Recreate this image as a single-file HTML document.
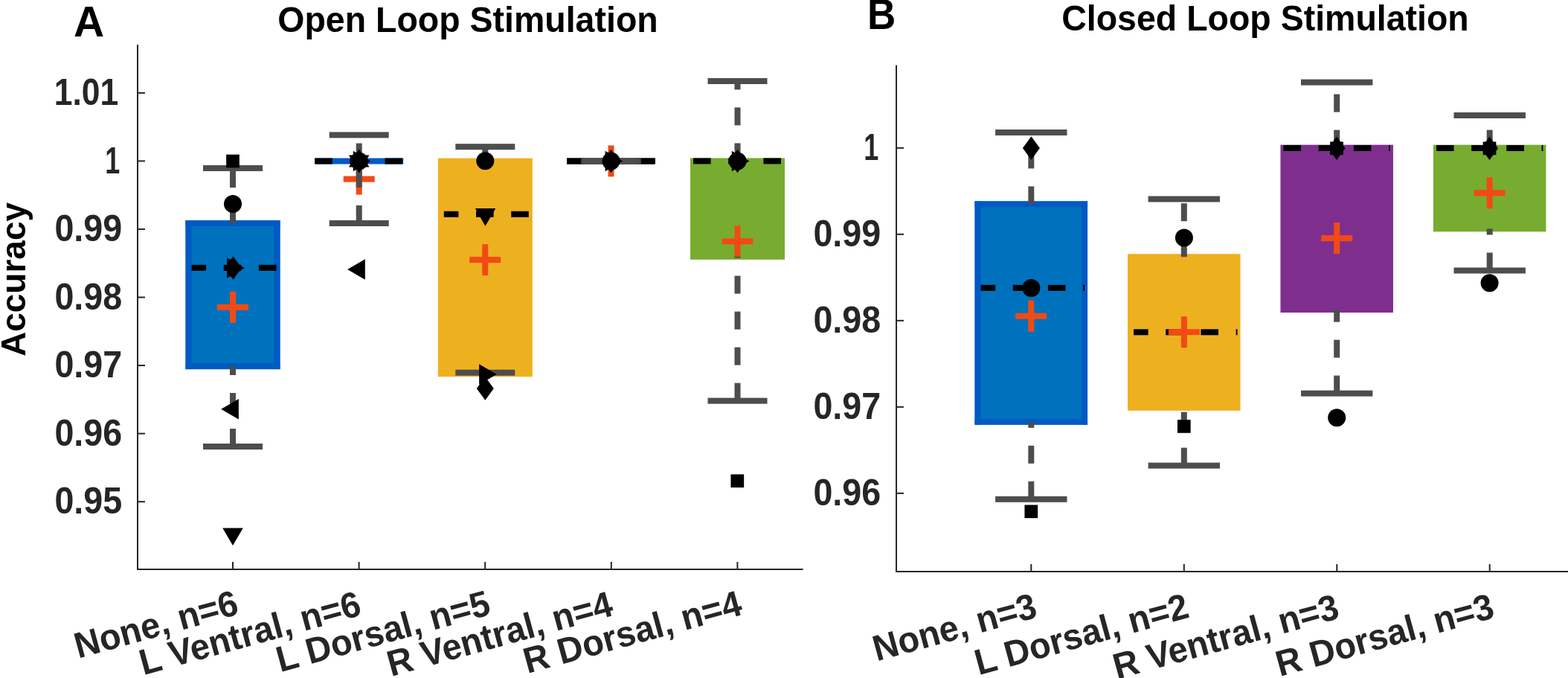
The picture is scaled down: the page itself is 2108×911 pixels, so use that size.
<!DOCTYPE html>
<html><head><meta charset="utf-8"><title>Open Loop vs Closed Loop Stimulation</title>
<style>html,body{margin:0;padding:0;background:#fff;overflow:hidden}svg{display:block}</style>
</head><body>
<svg width="2108" height="911" viewBox="0 0 2108 911" font-family="'Liberation Sans', sans-serif" font-weight="bold"><rect x="0" y="0" width="2108" height="911" fill="#fff"/><rect x="249.5" y="296.1" width="127" height="200" fill="#0072bd"/><rect x="249.5" y="296.1" width="127" height="8" fill="#005ac3"/><rect x="249.5" y="488.1" width="127" height="8" fill="#005ac3"/><rect x="249.5" y="296.1" width="8" height="200" fill="#005ac3"/><rect x="368.5" y="296.1" width="8" height="200" fill="#005ac3"/><rect x="257.5" y="355.8" width="19.6" height="8" fill="#000"/><rect x="300.7" y="355.8" width="23.6" height="8" fill="#000"/><rect x="347.9" y="355.8" width="23.6" height="8" fill="#000"/><rect x="292" y="408.8" width="42" height="8" fill="#f24a14"/><rect x="309" y="391.8" width="8" height="42" fill="#f24a14"/><rect x="309" y="276.1" width="8" height="24" fill="#4d4d4d"/><rect x="309" y="228.1" width="8" height="24" fill="#4d4d4d"/><rect x="309" y="576" width="8" height="24" fill="#4d4d4d"/><rect x="309" y="528" width="8" height="24" fill="#4d4d4d"/><rect x="309" y="492.1" width="8" height="11.9" fill="#4d4d4d"/><rect x="273" y="222" width="80" height="8" fill="#4d4d4d"/><rect x="273" y="596" width="80" height="8" fill="#4d4d4d"/><rect x="304.15" y="207.65" width="17.7" height="17.7" fill="#000"/><circle cx="313" cy="274" r="12" fill="#000"/><polygon points="313.5,344.25 325,360 313.5,375.75 302,360" fill="#000"/><polygon points="305.1,346.25 305.1,373.75 328.8,360" fill="#000"/><polygon points="320.9,535.95 320.9,563.45 297.2,549.7" fill="#000"/><polygon points="299.25,709.4 326.75,709.4 313,733.1" fill="#000"/><rect x="423.2" y="212.5" width="119" height="8" fill="#005ac3"/><rect x="423.2" y="212.5" width="23.6" height="8" fill="#000"/><rect x="470.4" y="212.5" width="23.6" height="8" fill="#000"/><rect x="517.6" y="212.5" width="23.6" height="8" fill="#000"/><rect x="461.7" y="236.6" width="42" height="8" fill="#f24a14"/><rect x="478.7" y="219.6" width="8" height="42" fill="#f24a14"/><rect x="478.7" y="192.5" width="8" height="24" fill="#4d4d4d"/><rect x="478.7" y="276" width="8" height="24" fill="#4d4d4d"/><rect x="478.7" y="228" width="8" height="24" fill="#4d4d4d"/><rect x="442.7" y="177.4" width="80" height="8" fill="#4d4d4d"/><rect x="442.7" y="296" width="80" height="8" fill="#4d4d4d"/><circle cx="482.7" cy="216.5" r="12" fill="#000"/><polygon points="482.7,200.75 494.2,216.5 482.7,232.25 471.2,216.5" fill="#000"/><polygon points="474.8,202.75 474.8,230.25 498.5,216.5" fill="#000"/><polygon points="468.95,224.4 496.45,224.4 482.7,200.7" fill="#000"/><polygon points="468.95,208.6 496.45,208.6 482.7,232.3" fill="#000"/><polygon points="490.8,348.15 490.8,375.65 467.1,361.9" fill="#000"/><rect x="588.8" y="212.6" width="127" height="293.6" fill="#edb120"/><rect x="596.8" y="283.8" width="19.6" height="8" fill="#000"/><rect x="640" y="283.8" width="23.6" height="8" fill="#000"/><rect x="687.2" y="283.8" width="23.6" height="8" fill="#000"/><rect x="631.2" y="345.1" width="42" height="8" fill="#f24a14"/><rect x="648.2" y="328.1" width="8" height="42" fill="#f24a14"/><rect x="648.3" y="197.2" width="8" height="19.4" fill="#4d4d4d"/><rect x="612.3" y="193.2" width="80" height="8" fill="#4d4d4d"/><rect x="612.3" y="496.7" width="80" height="8" fill="#4d4d4d"/><circle cx="652.3" cy="216.2" r="12" fill="#000"/><polygon points="638.75,280.1 666.25,280.1 652.5,303.8" fill="#000"/><polygon points="644.1,489.25 644.1,516.75 667.8,503" fill="#000"/><polygon points="652.3,506.25 663.8,522 652.3,537.75 640.8,522" fill="#000"/><rect x="762" y="212.5" width="119" height="8" fill="#000"/><rect x="762" y="212.5" width="23.6" height="8" fill="#000"/><rect x="809.2" y="212.5" width="23.6" height="8" fill="#000"/><rect x="856.4" y="212.5" width="23.6" height="8" fill="#000"/><rect x="800.5" y="212.4" width="42" height="8" fill="#f24a14"/><rect x="817.5" y="195.4" width="8" height="42" fill="#f24a14"/><rect x="781.5" y="212.5" width="80" height="8" fill="#4d4d4d"/><rect x="781.5" y="212.5" width="80" height="8" fill="#4d4d4d"/><circle cx="821.5" cy="216.5" r="12" fill="#000"/><polygon points="821.5,200.75 833,216.5 821.5,232.25 810,216.5" fill="#000"/><polygon points="813.6,202.75 813.6,230.25 837.3,216.5" fill="#000"/><rect x="928" y="212.4" width="127" height="136.4" fill="#77ac30"/><rect x="932" y="212.4" width="23.6" height="8" fill="#000"/><rect x="979.2" y="212.4" width="23.6" height="8" fill="#000"/><rect x="1026.4" y="212.4" width="23.6" height="8" fill="#000"/><rect x="970.5" y="320.3" width="42" height="8" fill="#f24a14"/><rect x="987.5" y="303.3" width="8" height="42" fill="#f24a14"/><rect x="987.5" y="192.4" width="8" height="24" fill="#4d4d4d"/><rect x="987.5" y="144.4" width="8" height="24" fill="#4d4d4d"/><rect x="987.5" y="109" width="8" height="11.4" fill="#4d4d4d"/><rect x="987.5" y="514.6" width="8" height="24" fill="#4d4d4d"/><rect x="987.5" y="466.6" width="8" height="24" fill="#4d4d4d"/><rect x="987.5" y="418.6" width="8" height="24" fill="#4d4d4d"/><rect x="987.5" y="370.6" width="8" height="24" fill="#4d4d4d"/><rect x="987.5" y="344.8" width="8" height="1.8" fill="#4d4d4d"/><rect x="951.5" y="105" width="80" height="8" fill="#4d4d4d"/><rect x="951.5" y="534.6" width="80" height="8" fill="#4d4d4d"/><circle cx="991.5" cy="216.5" r="12" fill="#000"/><polygon points="991.5,200.75 1003,216.5 991.5,232.25 980,216.5" fill="#000"/><polygon points="983.8,202.75 983.8,230.25 1007.5,216.5" fill="#000"/><rect x="982.45" y="637.35" width="17.7" height="17.7" fill="#000"/><rect x="1310.55" y="270.4" width="151.5" height="300.3" fill="#0072bd"/><rect x="1310.55" y="270.4" width="151.5" height="8" fill="#005ac3"/><rect x="1310.55" y="562.7" width="151.5" height="8" fill="#005ac3"/><rect x="1310.55" y="270.4" width="8" height="300.3" fill="#005ac3"/><rect x="1454.05" y="270.4" width="8" height="300.3" fill="#005ac3"/><rect x="1318.55" y="382.8" width="19.6" height="8" fill="#000"/><rect x="1361.75" y="382.8" width="23.6" height="8" fill="#000"/><rect x="1408.95" y="382.8" width="23.6" height="8" fill="#000"/><rect x="1456.15" y="382.8" width="1.9" height="8" fill="#000"/><rect x="1365.2" y="420.7" width="42" height="8" fill="#f24a14"/><rect x="1382.2" y="403.7" width="8" height="42" fill="#f24a14"/><rect x="1382.3" y="250.4" width="8" height="24" fill="#4d4d4d"/><rect x="1382.3" y="202.4" width="8" height="24" fill="#4d4d4d"/><rect x="1382.3" y="178" width="8" height="0.4" fill="#4d4d4d"/><rect x="1382.3" y="646.8" width="8" height="24" fill="#4d4d4d"/><rect x="1382.3" y="598.8" width="8" height="24" fill="#4d4d4d"/><rect x="1382.3" y="566.7" width="8" height="8.1" fill="#4d4d4d"/><rect x="1338.1" y="174" width="96.4" height="8" fill="#4d4d4d"/><rect x="1338.1" y="666.8" width="96.4" height="8" fill="#4d4d4d"/><polygon points="1386.4,183.15 1397.9,198.9 1386.4,214.65 1374.9,198.9" fill="#000"/><circle cx="1386.4" cy="387" r="12" fill="#000"/><rect x="1377.45" y="678.45" width="17.7" height="17.7" fill="#000"/><rect x="1516.05" y="341.2" width="151.5" height="210.6" fill="#edb120"/><rect x="1524.05" y="442.3" width="19.6" height="8" fill="#000"/><rect x="1567.25" y="442.3" width="23.6" height="8" fill="#000"/><rect x="1614.45" y="442.3" width="23.6" height="8" fill="#000"/><rect x="1661.65" y="442.3" width="1.9" height="8" fill="#000"/><rect x="1570.9" y="442.2" width="42" height="8" fill="#f24a14"/><rect x="1587.9" y="425.2" width="8" height="42" fill="#f24a14"/><rect x="1587.8" y="321.2" width="8" height="24" fill="#4d4d4d"/><rect x="1587.8" y="273.2" width="8" height="24" fill="#4d4d4d"/><rect x="1587.8" y="601.6" width="8" height="24" fill="#4d4d4d"/><rect x="1587.8" y="553.6" width="8" height="24" fill="#4d4d4d"/><rect x="1543.6" y="263.5" width="96.4" height="8" fill="#4d4d4d"/><rect x="1543.6" y="621.6" width="96.4" height="8" fill="#4d4d4d"/><circle cx="1591.9" cy="319.4" r="12" fill="#000"/><rect x="1582.95" y="564.05" width="17.7" height="17.7" fill="#000"/><rect x="1721.45" y="194.6" width="151.5" height="225.4" fill="#7e2f8e"/><rect x="1725.45" y="195" width="23.6" height="8" fill="#000"/><rect x="1772.65" y="195" width="23.6" height="8" fill="#000"/><rect x="1819.85" y="195" width="23.6" height="8" fill="#000"/><rect x="1867.05" y="195" width="1.9" height="8" fill="#000"/><rect x="1776.2" y="316.1" width="42" height="8" fill="#f24a14"/><rect x="1793.2" y="299.1" width="8" height="42" fill="#f24a14"/><rect x="1793.2" y="174.6" width="8" height="24" fill="#4d4d4d"/><rect x="1793.2" y="126.6" width="8" height="24" fill="#4d4d4d"/><rect x="1793.2" y="504.6" width="8" height="24" fill="#4d4d4d"/><rect x="1793.2" y="456.6" width="8" height="24" fill="#4d4d4d"/><rect x="1793.2" y="416" width="8" height="16.6" fill="#4d4d4d"/><rect x="1749" y="106.6" width="96.4" height="8" fill="#4d4d4d"/><rect x="1749" y="524.6" width="96.4" height="8" fill="#4d4d4d"/><rect x="1788.15" y="190.45" width="17.7" height="17.7" fill="#000"/><polygon points="1797,183.55 1808.5,199.3 1797,215.05 1785.5,199.3" fill="#000"/><circle cx="1797.2" cy="561.2" r="12" fill="#000"/><rect x="1926.95" y="194.6" width="151.5" height="116.7" fill="#77ac30"/><rect x="1930.95" y="195" width="23.6" height="8" fill="#000"/><rect x="1978.15" y="195" width="23.6" height="8" fill="#000"/><rect x="2025.35" y="195" width="23.6" height="8" fill="#000"/><rect x="2072.55" y="195" width="1.9" height="8" fill="#000"/><rect x="1981.6" y="255.2" width="42" height="8" fill="#f24a14"/><rect x="1998.6" y="238.2" width="8" height="42" fill="#f24a14"/><rect x="1998.7" y="174.6" width="8" height="24" fill="#4d4d4d"/><rect x="1998.7" y="339.5" width="8" height="24" fill="#4d4d4d"/><rect x="1998.7" y="307.3" width="8" height="8.2" fill="#4d4d4d"/><rect x="1954.5" y="151" width="96.4" height="8" fill="#4d4d4d"/><rect x="1954.5" y="359.5" width="96.4" height="8" fill="#4d4d4d"/><rect x="1993.65" y="190.45" width="17.7" height="17.7" fill="#000"/><polygon points="2002.5,183.55 2014,199.3 2002.5,215.05 1991,199.3" fill="#000"/><circle cx="2002.6" cy="380.2" r="12" fill="#000"/><rect x="184" y="60" width="2" height="706" fill="#262626"/><rect x="184" y="764" width="895.6" height="2" fill="#262626"/><rect x="185" y="123.85" width="10" height="2" fill="#262626"/><rect x="185" y="215.4" width="10" height="2" fill="#262626"/><rect x="185" y="306.95" width="10" height="2" fill="#262626"/><rect x="185" y="398.5" width="10" height="2" fill="#262626"/><rect x="185" y="490.05" width="10" height="2" fill="#262626"/><rect x="185" y="581.6" width="10" height="2" fill="#262626"/><rect x="185" y="673.15" width="10" height="2" fill="#262626"/><rect x="312" y="755" width="2" height="10" fill="#262626"/><rect x="481.6" y="755" width="2" height="10" fill="#262626"/><rect x="651.2" y="755" width="2" height="10" fill="#262626"/><rect x="820.8" y="755" width="2" height="10" fill="#262626"/><rect x="990.4" y="755" width="2" height="10" fill="#262626"/><rect x="1204" y="87.6" width="2" height="681.4" fill="#262626"/><rect x="1204" y="767" width="904" height="2" fill="#262626"/><rect x="1205" y="197.8" width="10" height="2" fill="#262626"/><rect x="1205" y="313.8" width="10" height="2" fill="#262626"/><rect x="1205" y="429.8" width="10" height="2" fill="#262626"/><rect x="1205" y="545.8" width="10" height="2" fill="#262626"/><rect x="1205" y="661.8" width="10" height="2" fill="#262626"/><rect x="1385.3" y="758" width="2" height="10" fill="#262626"/><rect x="1590.8" y="758" width="2" height="10" fill="#262626"/><rect x="1796.3" y="758" width="2" height="10" fill="#262626"/><rect x="2001.7" y="758" width="2" height="10" fill="#262626"/><text transform="translate(159.2,141.15) scale(0.925,1.03)" font-size="48" fill="#262626" text-anchor="end">1.01</text><text transform="translate(161.2,232.7) scale(0.75,1.03)" font-size="48" fill="#262626" text-anchor="end">1</text><text transform="translate(164.2,324.25) scale(0.972,1.03)" font-size="48" fill="#262626" text-anchor="end">0.99</text><text transform="translate(164.2,415.8) scale(0.972,1.03)" font-size="48" fill="#262626" text-anchor="end">0.98</text><text transform="translate(164.2,507.35) scale(0.972,1.03)" font-size="48" fill="#262626" text-anchor="end">0.97</text><text transform="translate(164.2,598.9) scale(0.972,1.03)" font-size="48" fill="#262626" text-anchor="end">0.96</text><text transform="translate(164.2,690.45) scale(0.972,1.03)" font-size="48" fill="#262626" text-anchor="end">0.95</text><text transform="translate(1181.2,215.1) scale(0.75,1.03)" font-size="48" fill="#262626" text-anchor="end">1</text><text transform="translate(1184.2,331.1) scale(0.972,1.03)" font-size="48" fill="#262626" text-anchor="end">0.99</text><text transform="translate(1184.2,447.1) scale(0.972,1.03)" font-size="48" fill="#262626" text-anchor="end">0.98</text><text transform="translate(1184.2,563.1) scale(0.972,1.03)" font-size="48" fill="#262626" text-anchor="end">0.97</text><text transform="translate(1184.2,679.1) scale(0.972,1.03)" font-size="48" fill="#262626" text-anchor="end">0.96</text><text transform="translate(629,43) scale(1,1.035)" font-size="46.5" fill="#000" text-anchor="middle">Open Loop Stimulation</text><text transform="translate(1701,41.3) scale(1,1.035)" font-size="46.5" fill="#000" text-anchor="middle">Closed Loop Stimulation</text><text transform="translate(99,49) scale(1,1)" font-size="57" fill="#000" text-anchor="start">A</text><text transform="translate(1165.9,38.7) scale(0.93,1)" font-size="57" fill="#000">B</text><text transform="translate(33.6,375.5) rotate(-90)" font-size="46" fill="#000" text-anchor="middle">Accuracy</text><text transform="translate(322.98,824.87) rotate(-15.35) scale(1,1.035)" font-size="47" fill="#262626" text-anchor="end">None, n=6</text><text transform="translate(487.85,826.14) rotate(-15.35) scale(1,1.035)" font-size="47" fill="#262626" text-anchor="end">L Ventral, n=6</text><text transform="translate(661.7,825) rotate(-15.35) scale(1,1.035)" font-size="47" fill="#262626" text-anchor="end">L Dorsal, n=5</text><text transform="translate(826.57,826.27) rotate(-15.35) scale(1,1.035)" font-size="47" fill="#262626" text-anchor="end">R Ventral, n=4</text><text transform="translate(999.93,825.26) rotate(-15.35) scale(1,1.035)" font-size="47" fill="#262626" text-anchor="end">R Dorsal, n=4</text><text transform="translate(1396.57,828.79) rotate(-15.35) scale(1,1.035)" font-size="47" fill="#262626" text-anchor="end">None, n=3</text><text transform="translate(1600.82,829.13) rotate(-15.35) scale(1,1.035)" font-size="47" fill="#262626" text-anchor="end">L Dorsal, n=2</text><text transform="translate(1802.74,830.09) rotate(-15.35) scale(1,1.035)" font-size="47" fill="#262626" text-anchor="end">R Ventral, n=3</text><text transform="translate(2011.23,829.26) rotate(-15.35) scale(1,1.035)" font-size="47" fill="#262626" text-anchor="end">R Dorsal, n=3</text></svg>
</body></html>
